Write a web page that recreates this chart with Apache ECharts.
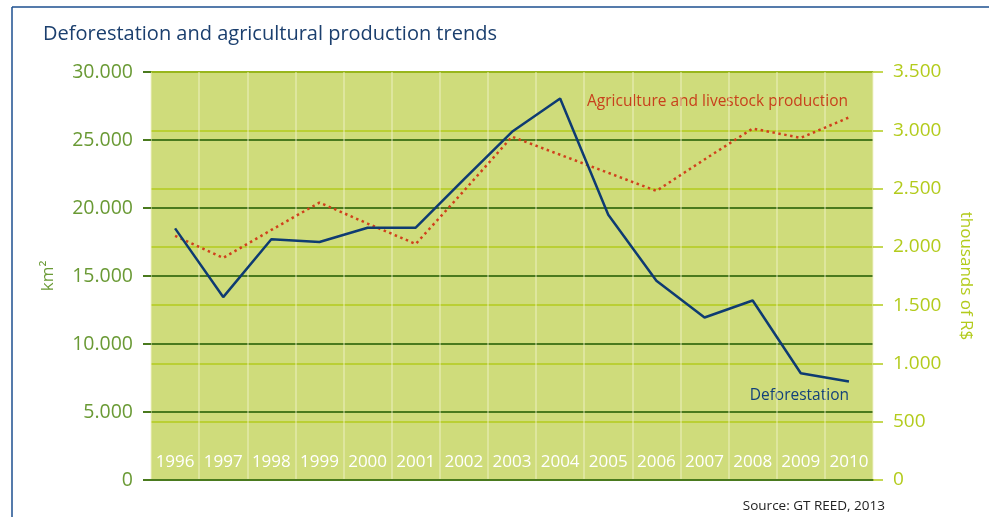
<!DOCTYPE html>
<html><head><meta charset="utf-8">
<script src="https://cdn.jsdelivr.net/npm/echarts@6/dist/echarts.min.js"></script>
<style>html,body{margin:0;padding:0;background:#fff}#c{width:989px;height:517px}</style>
</head><body><div id="c"></div>
<script>
const years = ['1996','1997','1998','1999','2000','2001','2002','2003','2004','2005','2006','2007','2008','2009','2010'];
const deforestation = [18500,13450,17700,17500,18550,18550,22100,25600,28050,19500,14650,11950,13200,7850,7250];
const agriculture = [2095,1905,2145,2380,2200,2025,2480,2945,2790,2635,2480,2750,3015,2935,3110];
const leftTicks = {min:0, max:30000, interval:5000};
const rightTicks = {min:0, max:3500, interval:500};

const fmt = v => String(v).replace(/\B(?=(\d{3})+(?!\d))/g, '.');
const FONT = 'Open Sans';
const chart = echarts.init(document.getElementById('c'));
chart.setOption({
  animation:false,
  textStyle:{fontFamily:FONT},
  title:{text:'Deforestation and agricultural production trends', left:38, top:19,
    textStyle:{fontFamily:FONT, fontSize:20, fontWeight:'normal', color:'#1b3f6e'}},
  grid:{left:151, right:116, top:72, bottom:37, show:true, backgroundColor:'#cfdc7b', borderWidth:0},
  xAxis:{type:'category', data:years, boundaryGap:true,
    axisLine:{show:true, lineStyle:{color:'#4a7a1e', width:2}},
    axisTick:{show:false},
    axisLabel:{inside:true, margin:9, color:'#ffffff', fontSize:17, fontFamily:FONT, interval:0},
    splitLine:{show:true, interval:0, lineStyle:{color:'rgba(240,240,200,0.6)', width:1.5}}
  },
  yAxis:[
    {type:'value', position:'left', min:leftTicks.min, max:leftTicks.max, interval:leftTicks.interval,
      name:'km²', nameLocation:'middle', nameRotate:90, nameGap:94,
      nameTextStyle:{color:'#6a9a35', fontSize:17, fontFamily:FONT},
      axisLine:{show:false},
      axisTick:{show:true, length:8, lineStyle:{color:'#4a7a1e', width:2}},
      axisLabel:{color:'#6a9a35', fontSize:19.5, margin:18, formatter:fmt, fontFamily:FONT},
      splitLine:{show:true, lineStyle:{color:'#4a7a1e', width:2}}
    },
    {type:'value', position:'right', min:rightTicks.min, max:rightTicks.max, interval:rightTicks.interval,
      name:'thousands of R$', nameLocation:'middle', nameRotate:-90, nameGap:84,
      nameTextStyle:{color:'#b3cb1c', fontSize:17, fontFamily:FONT},
      axisLine:{show:false},
      axisTick:{show:true, length:10, lineStyle:{color:'#b3cb1c', width:1.5}},
      axisLabel:{color:'#b3cb1c', fontSize:19, margin:20, formatter:fmt, fontFamily:FONT},
      splitLine:{show:true, lineStyle:{color:'#b3cb1c', width:1.5}}
    }
  ],
  series:[
    {name:'Agriculture and livestock production', type:'line', yAxisIndex:1, data:agriculture,
      symbol:'none', lineStyle:{color:'#d0401c', width:2.5, type:[2.5,3.5]}, z:3},
    {name:'Deforestation', type:'line', yAxisIndex:0, data:deforestation,
      symbol:'none', lineStyle:{color:'#0e3b72', width:2.5}, z:4}
  ],
  graphic:[
    {type:'line', shape:{x1:12, y1:7, x2:989, y2:7}, style:{stroke:'#1d4f8f', lineWidth:1.5}},
    {type:'line', shape:{x1:12, y1:7, x2:12, y2:517}, style:{stroke:'#1d4f8f', lineWidth:1.5}},
    {type:'text', right:141, top:94, style:{text:'Agriculture and livestock production', fill:'#c8401c', fontSize:15.5, fontFamily:FONT}},
    {type:'text', right:140, top:388, style:{text:'Deforestation', fill:'#12407a', fontSize:15.5, fontFamily:FONT}},
    {type:'text', right:104, top:499, style:{text:'Source: GT REED, 2013', fill:'#222', fontSize:13.5, fontFamily:FONT}}
  ]
});
</script></body></html>
